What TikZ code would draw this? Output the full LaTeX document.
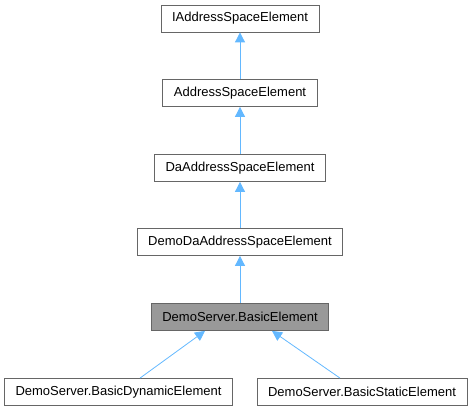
\documentclass[tikz,border=0pt]{standalone}
\usepackage{fontspec}
\setmainfont{Liberation Sans}
\usetikzlibrary{arrows.meta}
\definecolor{edgeblue}{HTML}{63B8FF}
\definecolor{boxgray}{HTML}{666666}
\definecolor{selgray}{HTML}{999999}
\begin{document}
\begin{tikzpicture}[x=1pt,y=-1pt,
        cls/.style={draw=boxgray,fill=white,thick,minimum height=27pt,inner xsep=11pt,
            font=\fontsize{13}{15}\selectfont},
        sel/.style={cls,fill=selgray},
        inherit/.style={draw=edgeblue,thick,{Triangle[length=10pt,width=10pt]}-}]
        \useasboundingbox (0,0) rectangle (472,411);
        \node[cls] (iase) at (240,18.5) {IAddressSpaceElement};
        \node[cls] (ase) at (240,93) {AddressSpaceElement};
        \node[cls] (dase) at (240,168) {DaAddressSpaceElement};
        \node[cls] (demodase) at (240,242) {DemoDaAddressSpaceElement};
        \node[sel] (basic) at (240,317) {DemoServer.BasicElement};
        \node[cls] (dynamic) at (118.5,392) {DemoServer.BasicDynamicElement};
        \node[cls] (static) at (362,392) {DemoServer.BasicStaticElement};
        \foreach \a/\b in {iase/ase,ase/dase,dase/demodase,demodase/basic}
            \draw[inherit] (\a) -- (\b);
        \draw[inherit] (basic.south -| 205,0) -- (dynamic.north -| 140,0);
        \draw[inherit] (basic.south -| 272,0) -- (static.north -| 340,0);
    \end{tikzpicture}
\end{document}
